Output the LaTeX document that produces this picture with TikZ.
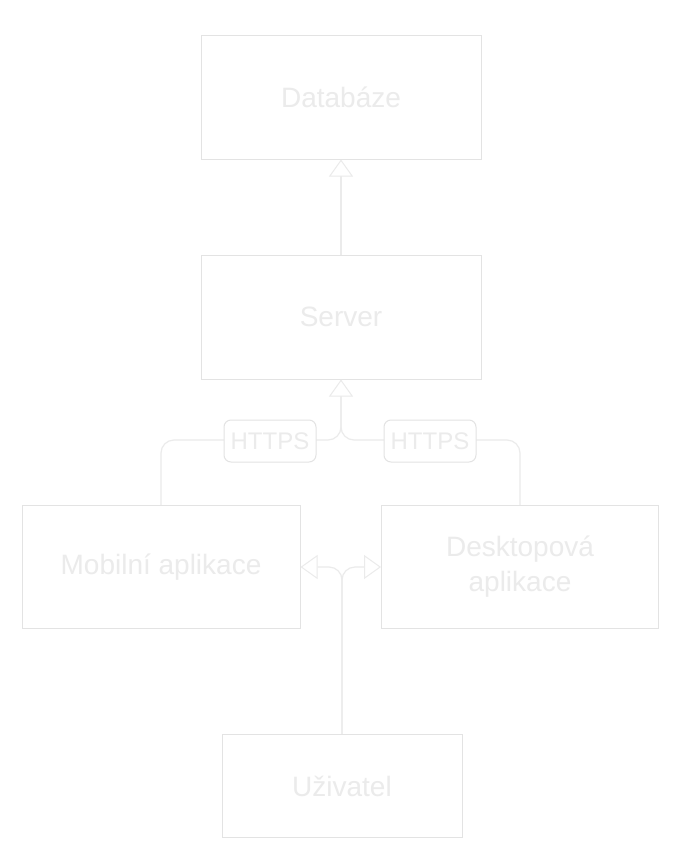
\documentclass[tikz,border=0pt]{standalone}
\usepackage{fontspec}
\setmainfont{Liberation Sans}
\usetikzlibrary{arrows.meta}
\definecolor{boxline}{gray}{0.89}
\definecolor{conn}{gray}{0.92}
\definecolor{txt}{gray}{0.92}
\tikzset{
  box/.style={rectangle, draw=boxline, fill=white, line width=1pt, inner sep=0pt,
    text=txt, font=\fontsize{28}{35}\selectfont, align=center},
  lbl/.style={rectangle, rounded corners=7pt, draw=boxline, fill=white, line width=1pt,
    minimum width=92pt, minimum height=42pt, inner sep=0pt, text=txt,
    font=\fontsize{24}{28}\selectfont},
  conn/.style={draw=conn, line width=1.2pt},
  tipped/.style={-{Triangle[fill=white, length=17pt, width=24pt, line width=1pt]}},
}
\begin{document}
\begin{tikzpicture}[x=1pt,y=-1pt]
\useasboundingbox[fill=white] (0,0) rectangle (693,865);
\node[box, minimum width=280pt, minimum height=124pt] (db) at (341,97) {Databáze};
\node[box, minimum width=280pt, minimum height=124pt] (srv) at (341,317) {Server};
\node[box, minimum width=278pt, minimum height=123pt] (mob) at (161,567) {Mobilní aplikace};
\node[box, minimum width=277pt, minimum height=123pt, text width=260pt] (desk) at (520,567) {Desktopová\\aplikace};
\node[box, minimum width=240pt, minimum height=103pt] (usr) at (342,786) {Uživatel};
\coordinate (j) at (341,440);
\draw[conn, tipped] (srv.north) -- (db.south);
\draw[conn, rounded corners=13pt] (desk.north) |- (j) -- (srv.south);
\draw[conn, rounded corners=13pt, tipped] (mob.north) |- (j) -- (srv.south);
\draw[conn, rounded corners=13pt, tipped] (usr.north) |- (mob.east);
\draw[conn, rounded corners=13pt, tipped] (usr.north) |- (desk.west);
\node[lbl] (h1) at (270,441) {HTTPS};
\node[lbl] (h2) at (430,441) {HTTPS};
\end{tikzpicture}
\end{document}
